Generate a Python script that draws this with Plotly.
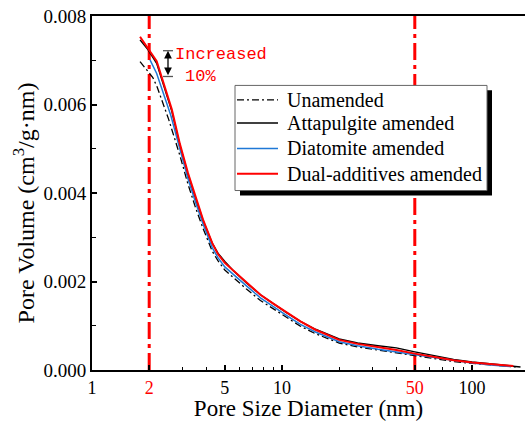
import plotly.graph_objects as go

# ---- data ----
unam_x = [1.79, 2.09, 2.2, 2.53, 2.9, 3.2, 3.5, 3.84, 4.3, 4.6, 5.0, 5.5, 6.5, 7.7, 9.0, 10.5, 12.5, 15, 20, 25, 32, 40, 50, 65, 80, 100, 130, 170]
unam_y = [0.00697, 0.00661, 0.00640, 0.00567, 0.00485, 0.00420, 0.00368, 0.00320, 0.00268, 0.00247, 0.00226, 0.00210, 0.00183, 0.00157, 0.00138, 0.00119, 0.00099, 0.00082, 0.00061, 0.00052, 0.00045, 0.00039, 0.00032, 0.00025, 0.00019, 0.00015, 0.00011, 0.00007]

atta_x = [1.79, 1.97, 2.19, 2.63, 2.9, 3.2, 3.5, 3.84, 4.3, 4.6, 5.0, 5.5, 6.5, 7.7, 9.0, 10.5, 12.5, 15, 20, 25, 32, 40, 50, 65, 80, 100, 130, 165, 180]
atta_y = [0.00746, 0.00724, 0.00693, 0.00585, 0.00508, 0.00442, 0.00390, 0.00338, 0.00286, 0.00264, 0.00245, 0.00226, 0.00197, 0.00170, 0.00150, 0.00130, 0.00110, 0.00092, 0.00070, 0.00061, 0.00055, 0.00050, 0.00041, 0.00031, 0.00024, 0.00018, 0.00013, 0.00009, 0.00007]

diat_x = [2.02, 2.19, 2.6, 2.9, 3.2, 3.5, 3.84, 4.3, 4.6, 5.0, 5.5, 6.5, 7.7, 9.0, 10.5, 12.5, 15, 20, 25, 32, 40, 50, 65, 80, 100, 130, 160]
diat_y = [0.00701, 0.00670, 0.00575, 0.00497, 0.00432, 0.00380, 0.00330, 0.00276, 0.00254, 0.00233, 0.00217, 0.00190, 0.00163, 0.00143, 0.00124, 0.00103, 0.00086, 0.00064, 0.00055, 0.00047, 0.00041, 0.00034, 0.00027, 0.00021, 0.00016, 0.00011, 0.00008]

dual_x = [1.79, 1.97, 2.19, 2.63, 2.9, 3.2, 3.5, 3.84, 4.3, 4.6, 5.0, 5.5, 6.5, 7.7, 9.0, 10.5, 12.5, 15, 20, 25, 32, 40, 50, 65, 80, 100, 130, 165]
dual_y = [0.00753, 0.00728, 0.00698, 0.00589, 0.00511, 0.00445, 0.00392, 0.00340, 0.00286, 0.00262, 0.00242, 0.00226, 0.00198, 0.00170, 0.00150, 0.00131, 0.00110, 0.00091, 0.00068, 0.00059, 0.00052, 0.00045, 0.00037, 0.00029, 0.00022, 0.00017, 0.00012, 0.00009]

series_names = ["Unamended", "Attapulgite amended", "Diatomite amended", "Dual-additives amended"]

boundary_sizes = [2, 50]          # micropore / macropore limits (nm)
y_limits = [0.0, 0.008]

x_tickvals = [1, 2, 5, 10, 50, 100]
x_ticktext = ["1", "<span style='color:red'>2</span>", "5", "10",
              "<span style='color:red'>50</span>", "100"]
x_minor_vals = [3, 4, 6, 7, 8, 9, 20, 30, 40, 60, 70, 80, 90]
y_tickvals = [0.000, 0.002, 0.004, 0.006, 0.008]
y_ticktext = ["0.000", "0.002", "0.004", "0.006", "0.008"]

SERIF = "Liberation Serif, Times New Roman, serif"
MONO = "Liberation Mono, Courier New, monospace"

styles = [
    dict(color="black", width=1.3, dash="7px,3px,2px,3px"),
    dict(color="black", width=1.5),
    dict(color="#1f78d6", width=1.5),
    dict(color="#ff0000", width=2),
]
xs = [unam_x, atta_x, diat_x, dual_x]
ys = [unam_y, atta_y, diat_y, dual_y]

fig = go.Figure()

for b in boundary_sizes:
    fig.add_trace(go.Scatter(x=[b, b], y=y_limits, mode="lines", showlegend=False,
                             line=dict(color="#ff0000", width=3, dash="17px,5px,4px,5px"),
                             hoverinfo="skip"))

for name, x, y, st in zip(series_names, xs, ys, styles):
    fig.add_trace(go.Scatter(x=x, y=y, mode="lines", name=name, line=st, showlegend=False))

# plot-area geometry in pixels: left 92, right 525, top 16, bottom 373
W, H = 525, 421
L, R, T, B = 92, 0, 16, 48
pw, ph = W - L - R, H - T - B


def px(xp):
    return (xp - L) / pw


def py(yp):
    return (H - B - yp) / ph


# ---- legend box (drawn by hand, with drop shadow) ----
fig.add_shape(type="rect", xref="paper", yref="paper", layer="above",
              x0=px(240), x1=px(492), y0=py(197), y1=py(91),
              fillcolor="black", line=dict(width=0))
fig.add_shape(type="rect", xref="paper", yref="paper", layer="above",
              x0=px(235), x1=px(487), y0=py(192), y1=py(86),
              fillcolor="white", line=dict(color="#666666", width=1))
row_y = [100.5, 124, 149.5, 175]
for name, st, ry in zip(series_names, styles, row_y):
    fig.add_shape(type="line", xref="paper", yref="paper", layer="above",
                  x0=px(237), x1=px(278), y0=py(ry), y1=py(ry),
                  line=dict(color=st["color"], width=st["width"], dash=st.get("dash", "solid")))
    fig.add_annotation(xref="paper", yref="paper", x=px(285), y=py(ry), text=name,
                       showarrow=False, xanchor="left", yanchor="middle",
                       font=dict(family=SERIF, size=20, color="black"))

# double arrow with caps
fig.add_annotation(xref="paper", yref="paper", x=px(168), y=py(51), ax=0, ay=26,
                   axref="pixel", ayref="pixel", text="", showarrow=True,
                   arrowside="end+start", arrowhead=2, arrowsize=1.2, arrowwidth=1.3,
                   arrowcolor="black", standoff=0, startstandoff=0)
for yy in (51, 77):
    fig.add_shape(type="line", xref="paper", yref="paper",
                  x0=px(163), x1=px(173), y0=py(yy), y1=py(yy),
                  line=dict(color="#555555", width=1.3))

fig.add_annotation(xref="paper", yref="paper", x=px(173), y=py(54.5), text="Increased",
                   showarrow=False, xanchor="left", yanchor="middle",
                   font=dict(family=MONO, size=17, color="#ff0000"))
fig.add_annotation(xref="paper", yref="paper", x=px(183), y=py(77), text="10%",
                   showarrow=False, xanchor="left", yanchor="middle",
                   font=dict(family=MONO, size=17, color="#ff0000"))

# y-axis title (placed as in the reference, slightly below centre)
fig.add_annotation(xref="paper", yref="paper", x=px(24), y=py(205),
                   text="Pore Volume (cm<sup>3</sup>/g·nm)", textangle=-90,
                   showarrow=False, xanchor="center", yanchor="middle",
                   font=dict(family=SERIF, size=24, color="black"))

fig.update_layout(
    width=W, height=H,
    margin=dict(l=L, r=R, t=T, b=B, pad=0),
    plot_bgcolor="white", paper_bgcolor="white",
    font=dict(family=SERIF, size=19, color="black"),
    showlegend=False,
    xaxis=dict(type="log", range=[0, (W - L - R) / 190.0],
               tickmode="array", tickvals=x_tickvals, ticktext=x_ticktext,
               ticks="inside", ticklen=5, tickwidth=1.5, tickcolor="black",
               minor=dict(tickmode="array", tickvals=x_minor_vals, ticks="inside",
                          ticklen=3, tickwidth=1.3, tickcolor="black", showgrid=False),
               showline=True, linecolor="black", linewidth=2, mirror=True,
               showgrid=False, zeroline=False,
               tickfont=dict(family=SERIF, size=18),
               title=dict(text="Pore Size Diameter (nm)", font=dict(family=SERIF, size=23),
                          standoff=7)),
    yaxis=dict(range=y_limits, tickmode="array", tickvals=y_tickvals, ticktext=y_ticktext,
               ticks="inside", ticklen=5, tickwidth=1.5, tickcolor="black",
               minor=dict(dtick=0.001, ticks="inside", ticklen=4, tickwidth=1.3,
                          tickcolor="black", showgrid=False),
               showline=True, linecolor="black", linewidth=2, mirror=False,
               showgrid=False, zeroline=False,
               tickfont=dict(family=SERIF, size=19)),
)

fig.write_html("out.html")
